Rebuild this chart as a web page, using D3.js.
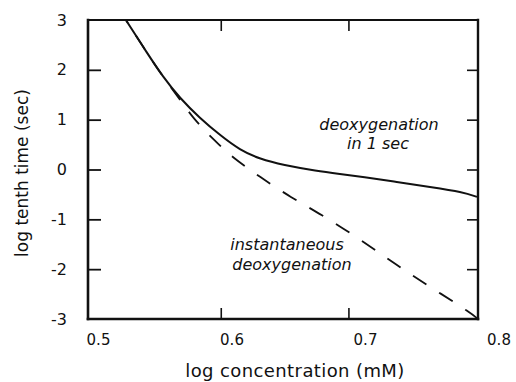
<!DOCTYPE html>
<html>
<head>
<meta charset="utf-8">
<script src="https://cdn.jsdelivr.net/npm/d3@7"></script>
<style>
  html, body { margin: 0; padding: 0; background: #fff; }
  svg { display: block; }
  text { font-family: "DejaVu Sans", sans-serif; fill: #111; }
</style>
</head>
<body>
<svg id="chart" width="516" height="382"></svg>
<script>
// ---- data ----
const xTicks = [0.5, 0.6, 0.7, 0.8];
const yTicks = [3, 2, 1, 0, -1, -2, -3];
const xTickLabels = ["0.5", "0.6", "0.7", "0.8"];
const yTickLabels = ["3", "2", "1", "0", "-1", "-2", "-3"];

// solid: deoxygenation in 1 sec
const solidX = [0.5257, 0.5422, 0.5547, 0.5680, 0.5837, 0.5994, 0.6150, 0.6307, 0.6487, 0.6753, 0.6933, 0.7113, 0.7380, 0.7639, 0.7897, 0.8007];
const solidY = [3.00, 2.34, 1.86, 1.43, 1.03, 0.69, 0.39, 0.21, 0.09, -0.03, -0.09, -0.15, -0.25, -0.35, -0.45, -0.55];

// dashed: instantaneous deoxygenation
const dashX = [0.5257, 0.5422, 0.5547, 0.5680, 0.5782, 0.5955, 0.6088, 0.6307, 0.6549, 0.6793, 0.7036, 0.7263, 0.7482, 0.7717, 0.7952, 0.8015];
const dashY = [3.00, 2.34, 1.86, 1.41, 1.03, 0.57, 0.25, -0.15, -0.56, -0.91, -1.31, -1.71, -2.10, -2.48, -2.87, -3.00];

const xDomain = [0.496, 0.8015];
const yDomain = [-3, 3];

// ---- layout ----
const svg = d3.select("#chart");
const L = 88, R = 478, T = 20, B = 319;

const x = d3.scaleLinear().domain(xDomain).range([L, R]);
const y = d3.scaleLinear().domain(yDomain).range([B, T]);
// tick labels in the scanned figure sit slightly to the right of the marks
const xLab = d3.scaleLinear().domain([0.5, 0.8]).range([98, 498.5]);

const innerX = [0.6, 0.7];
const innerY = [2, 1, 0, -1, -2];

// tick marks (inward)
svg.append("g").attr("transform", `translate(0,${B})`)
  .call(d3.axisTop(x).tickValues(innerX).tickSize(11).tickFormat(""))
  .call(g => g.select(".domain").remove())
  .call(g => g.selectAll("line").attr("stroke", "#111").attr("stroke-width", 1.6));
svg.append("g").attr("transform", `translate(0,${T})`)
  .call(d3.axisBottom(x).tickValues(innerX).tickSize(11).tickFormat(""))
  .call(g => g.select(".domain").remove())
  .call(g => g.selectAll("line").attr("stroke", "#111").attr("stroke-width", 1.6));
svg.append("g").attr("transform", `translate(${L},0)`)
  .call(d3.axisRight(y).tickValues(innerY).tickSize(13).tickFormat(""))
  .call(g => g.select(".domain").remove())
  .call(g => g.selectAll("line").attr("stroke", "#111").attr("stroke-width", 1.8));
svg.append("g").attr("transform", `translate(${R},0)`)
  .call(d3.axisLeft(y).tickValues(innerY).tickSize(11).tickFormat(""))
  .call(g => g.select(".domain").remove())
  .call(g => g.selectAll("line").attr("stroke", "#111").attr("stroke-width", 1.6));

// tick labels
svg.append("g").attr("transform", `translate(0,${B + 11})`)
  .call(d3.axisBottom(xLab).tickValues(xTicks).tickSize(0).tickPadding(4)
    .tickFormat((d, i) => xTickLabels[i]))
  .call(g => g.select(".domain").remove())
  .call(g => g.selectAll("text").attr("font-size", 15).attr("font-family", "DejaVu Sans").attr("fill", "#111"));
svg.append("g").attr("transform", `translate(${L - 21},0)`)
  .call(d3.axisLeft(y).tickValues(yTicks).tickSize(0).tickPadding(0)
    .tickFormat((d, i) => yTickLabels[i]))
  .call(g => g.select(".domain").remove())
  .call(g => g.selectAll("text").attr("font-size", 16).attr("font-family", "DejaVu Sans").attr("fill", "#111"));

// frame
const fr = svg.append("g").attr("stroke", "#111").attr("stroke-linecap", "square");
fr.append("line").attr("x1", x(xDomain[0])).attr("x2", x(xDomain[1])).attr("y1", y(3)).attr("y2", y(3)).attr("stroke-width", 2);
fr.append("line").attr("x1", x(xDomain[0])).attr("x2", x(xDomain[1])).attr("y1", y(-3)).attr("y2", y(-3)).attr("stroke-width", 2.6);
fr.append("line").attr("x1", x(xDomain[0])).attr("x2", x(xDomain[0])).attr("y1", y(3)).attr("y2", y(-3)).attr("stroke-width", 2.6);
fr.append("line").attr("x1", x(xDomain[1])).attr("x2", x(xDomain[1])).attr("y1", y(3)).attr("y2", y(-3)).attr("stroke-width", 2.4);

// curves
svg.append("clipPath").attr("id", "plotclip").append("rect")
  .attr("x", L).attr("y", T).attr("width", R - L).attr("height", B - T);

const line = d3.line().x(d => x(d[0])).y(d => y(d[1])).curve(d3.curveBasis);

const dashPath = svg.append("path")
  .datum(dashX.map((v, i) => [v, dashY[i]]))
  .attr("clip-path", "url(#plotclip)")
  .attr("d", line).attr("fill", "none").attr("stroke", "#111")
  .attr("stroke-width", 1.8).attr("stroke-dasharray", "16,15");
// align the pattern so that a dash runs into the lower-right corner
const totalLen = dashPath.node().getTotalLength();
dashPath.attr("stroke-dashoffset", 16 - (totalLen % 31));

svg.append("path")
  .datum(solidX.map((v, i) => [v, solidY[i]]))
  .attr("clip-path", "url(#plotclip)")
  .attr("d", line).attr("fill", "none").attr("stroke", "#111")
  .attr("stroke-width", 2);

// annotations
const ann = svg.append("g").attr("font-size", 16).attr("font-style", "italic").attr("text-anchor", "middle");
ann.append("text").attr("x", 379).attr("y", 130).text("deoxygenation");
ann.append("text").attr("x", 378).attr("y", 149).text("in 1 sec");
ann.append("text").attr("x", 287).attr("y", 250).text("instantaneous");
ann.append("text").attr("x", 292).attr("y", 270).text("deoxygenation");

// axis titles
svg.append("text").attr("x", 295).attr("y", 377).attr("text-anchor", "middle")
  .attr("font-size", 18).attr("letter-spacing", 0.4).text("log concentration (mM)");
svg.append("text").attr("transform", "translate(28,173) rotate(-90)").attr("text-anchor", "middle")
  .attr("font-size", 17).text("log tenth time (sec)");
</script>
</body>
</html>
